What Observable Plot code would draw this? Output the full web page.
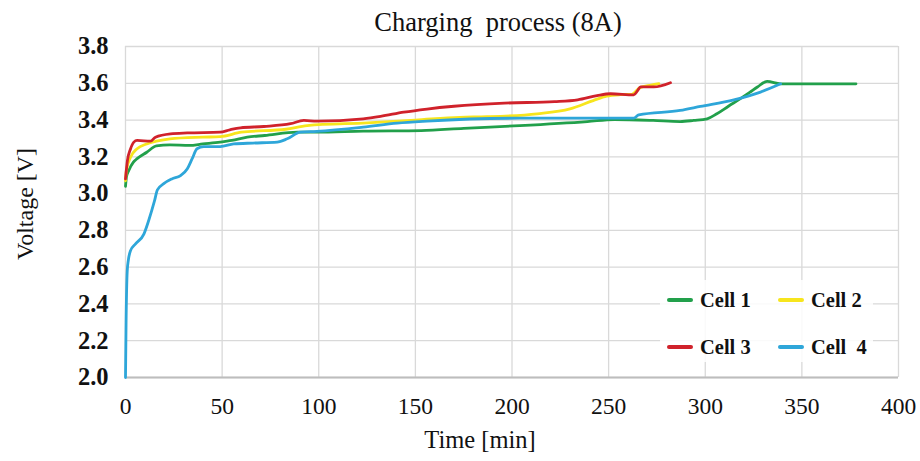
<!DOCTYPE html>
<html><head><meta charset="utf-8">
<script src="https://cdn.jsdelivr.net/npm/d3@7"></script>
<script src="https://cdn.jsdelivr.net/npm/@observablehq/plot@0.6"></script>
<style>
body{margin:0;background:#fff;}
#wrap{position:relative;width:920px;height:461px;}
#legend{position:absolute;left:660px;top:280px;width:213px;height:82px;background:rgba(255,255,255,0.85);font-family:"Liberation Serif";font-weight:bold;font-size:20.5px;color:#111;}
.item{position:absolute;display:flex;align-items:center;height:24px;white-space:pre;}
.sw{width:26px;height:4px;border-radius:2px;margin-right:7px;}
</style></head>
<body><div id="wrap"><div id="legend"></div></div>
<script>
const cells = ["Cell 1", "Cell 2", "Cell 3", "Cell 4"];
const legendLabels = ["Cell 1", "Cell 2", "Cell 3", "Cell  4"];
const colors = ["#22a04b", "#f7e51d", "#d0222b", "#2ea6d9"];
const xTicks = [0, 50, 100, 150, 200, 250, 300, 350, 400];
const yTicks = [2.0, 2.2, 2.4, 2.6, 2.8, 3.0, 3.2, 3.4, 3.6, 3.8];

const cell1T = [0, 0.5, 1.7, 4, 6, 11, 16, 23, 33, 40, 49, 55, 63, 72, 89, 99, 123, 153, 175, 204, 239, 253, 273, 287, 294, 301, 306, 312, 318, 323, 327, 332, 339, 378];
const cell1V = [3.04, 3.09, 3.126, 3.17, 3.19, 3.225, 3.26, 3.265, 3.262, 3.27, 3.28, 3.289, 3.307, 3.316, 3.334, 3.334, 3.34, 3.343, 3.355, 3.37, 3.392, 3.403, 3.398, 3.392, 3.398, 3.407, 3.434, 3.475, 3.515, 3.55, 3.58, 3.61, 3.597, 3.597];

const cell2T = [0, 0.5, 2.6, 6, 11, 16, 23, 40, 49, 60, 83, 94, 125, 150, 173, 187, 213, 230, 242, 249, 256, 262, 266, 272, 276];
const cell2V = [3.07, 3.13, 3.198, 3.244, 3.27, 3.285, 3.298, 3.307, 3.31, 3.334, 3.35, 3.37, 3.385, 3.40, 3.415, 3.418, 3.434, 3.461, 3.506, 3.53, 3.538, 3.54, 3.575, 3.59, 3.598];

const cell3T = [0, 1, 2.5, 4.3, 6, 12.9, 15.5, 23.3, 32, 49, 54, 59.5, 71.6, 85.4, 92.3, 99, 123, 132, 144, 156, 170, 196, 222, 234, 244, 251, 263, 265, 266.5, 273.4, 282];
const cell3V = [3.08, 3.18, 3.24, 3.28, 3.289, 3.285, 3.307, 3.325, 3.33, 3.334, 3.347, 3.358, 3.365, 3.38, 3.398, 3.394, 3.407, 3.42, 3.443, 3.46, 3.475, 3.492, 3.50, 3.51, 3.533, 3.543, 3.537, 3.56, 3.58, 3.58, 3.603];

const cell4T = [0, 0.3, 0.9, 1.5, 2.6, 5.2, 9.5, 12, 15, 16.5, 19.8, 24, 28.5, 32, 34.5, 37, 40.5, 49, 56, 66, 78.5, 83.7, 90.5, 99, 123, 140.6, 156, 204, 263, 265.6, 287, 297.5, 314.8, 328.6, 339];
const cell4V = [2.0, 2.3, 2.58, 2.64, 2.69, 2.727, 2.78, 2.854, 2.96, 3.02, 3.054, 3.08, 3.098, 3.135, 3.19, 3.244, 3.256, 3.256, 3.27, 3.275, 3.28, 3.298, 3.334, 3.338, 3.361, 3.383, 3.394, 3.41, 3.41, 3.428, 3.452, 3.474, 3.51, 3.552, 3.597];

const titleText = "Charging\u00a0 process (8A)";
const xLabel = "Time [min]";
const yLabel = "Voltage [V]";

const series = [[cell1T, cell1V], [cell2T, cell2V], [cell3T, cell3V], [cell4T, cell4V]];
const rows = series.flatMap(([ts, vs], k) => ts.map((t, i) => ({cell: cells[k], t, v: vs[i]})));

const chart = Plot.plot({
  width: 920, height: 461,
  marginLeft: 125, marginRight: 22, marginTop: 46, marginBottom: 84,
  style: {fontFamily: "Liberation Serif", background: "#fff", color: "#111"},
  x: {domain: [0, 400]},
  y: {domain: [2, 3.8]},
  color: {domain: cells, range: colors},
  marks: [
    Plot.gridX(xTicks, {stroke: "#d9d9d9", strokeOpacity: 1, strokeWidth: 1.3}),
    Plot.gridY(yTicks, {stroke: "#d9d9d9", strokeOpacity: 1, strokeWidth: 1.3}),
    Plot.ruleY([2], {stroke: "#bdbdbd", strokeWidth: 2.2}),
    Plot.axisX(xTicks, {tickSize: 0, tickPadding: 20, fontSize: 23.5, label: null}),
    Plot.axisY(yTicks, {tickSize: 0, tickPadding: 17, fontSize: 24.5, fontWeight: "bold", tickFormat: d => d.toFixed(1), label: null}),
    Plot.line(rows, {x: "t", y: "v", z: "cell", stroke: "cell", strokeWidth: 2.8, curve: "monotone-x"}),
    Plot.text([titleText], {frameAnchor: "top", lineAnchor: "middle", dx: -14, dy: -24, fontSize: 26.5}),
    Plot.text([xLabel], {frameAnchor: "bottom", lineAnchor: "middle", dx: -32, dy: 63, fontSize: 24.5}),
    Plot.text([yLabel], {frameAnchor: "left", textAnchor: "middle", lineAnchor: "middle", rotate: -90, dx: -100, dy: -8, fontSize: 24})
  ]
});
const wrap = document.getElementById("wrap");
wrap.insertBefore(chart, wrap.firstChild);

const legend = document.getElementById("legend");
const pos = [[7, 8], [118, 8], [7, 55], [118, 55]];
cells.forEach((c, i) => {
  const it = document.createElement("div");
  it.className = "item";
  it.style.left = pos[i][0] + "px";
  it.style.top = pos[i][1] + "px";
  it.innerHTML = `<span class="sw" style="background:${colors[i]}"></span><span>${legendLabels[i]}</span>`;
  legend.appendChild(it);
});
</script></body></html>
